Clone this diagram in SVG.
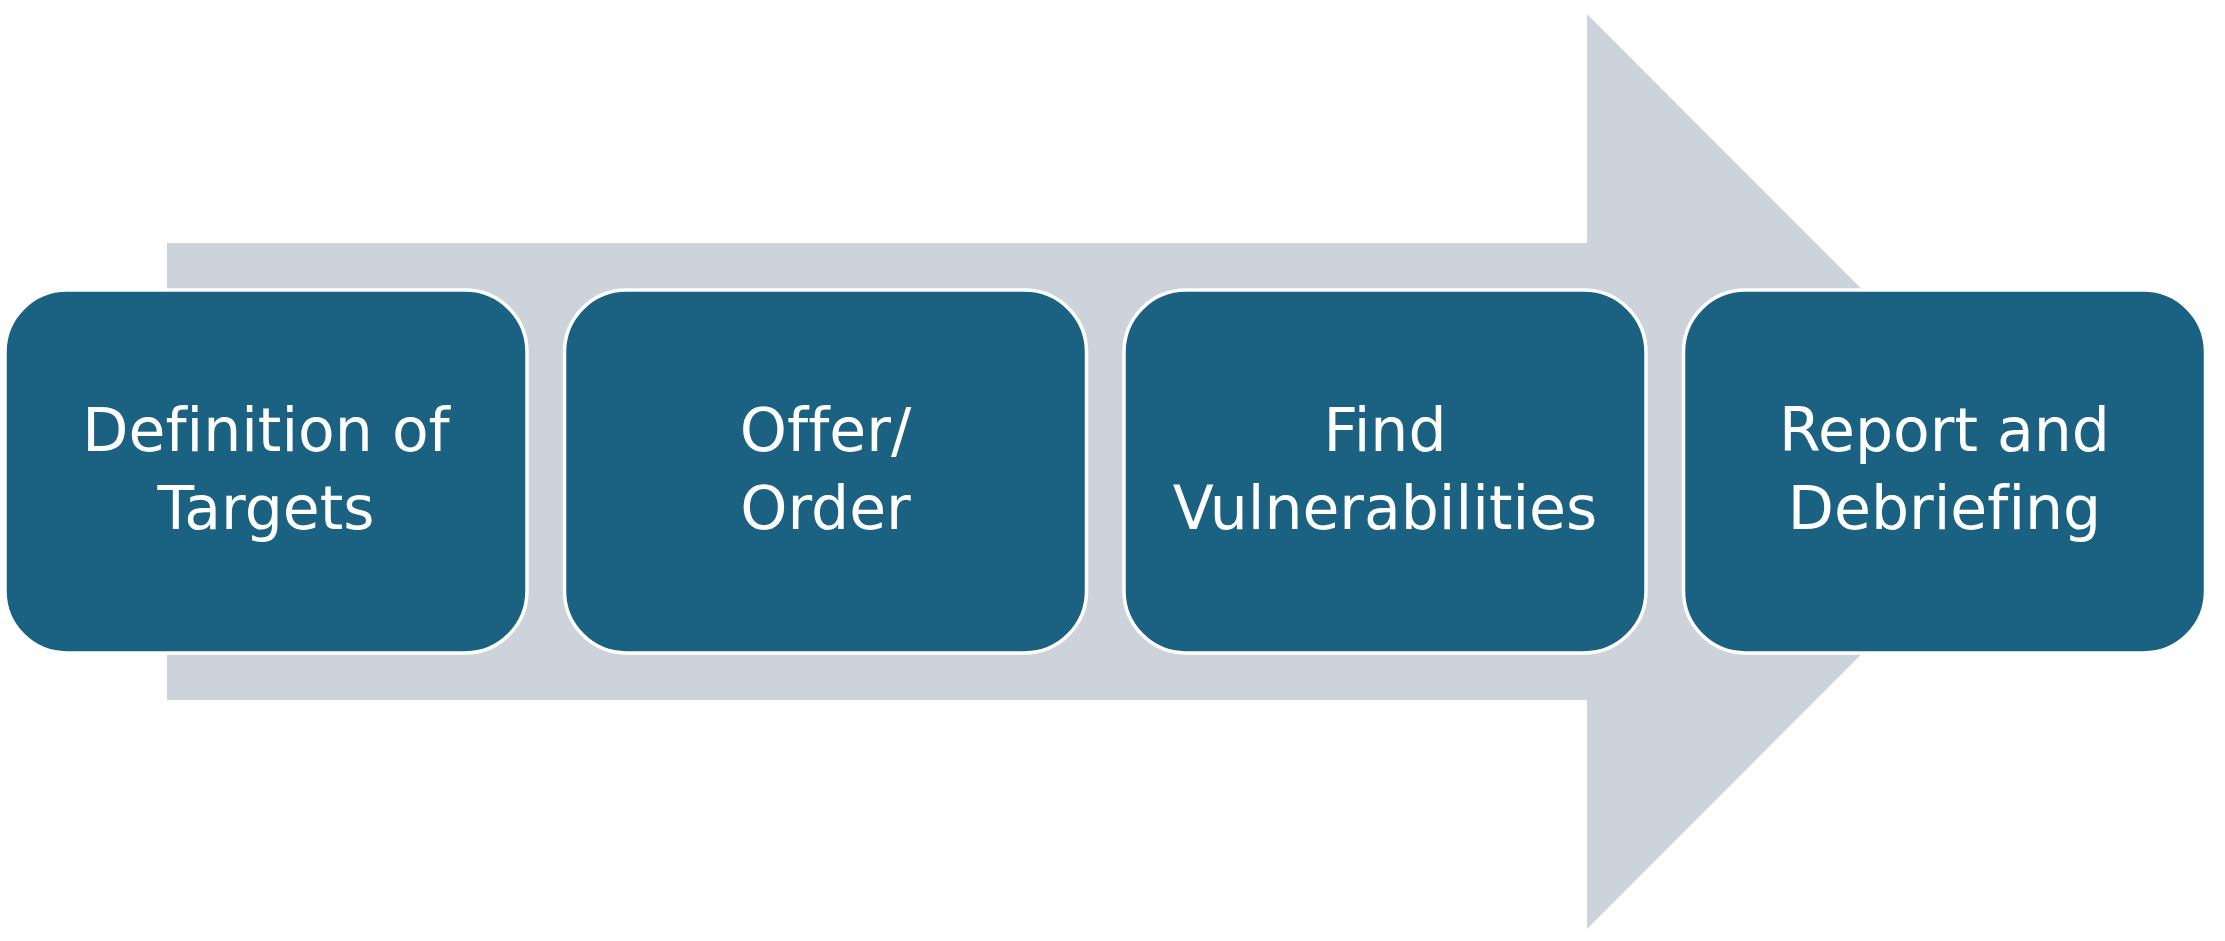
<svg xmlns="http://www.w3.org/2000/svg" width="2225" height="941" viewBox="0 0 2225 941">
<style>
.bg{fill:#ffffff}
.arrow{fill:#CCD3DA}
.box{fill:#1A6182;stroke:#ffffff;stroke-width:3.5}
.lbl{fill:#ffffff;font-family:"DejaVu Sans","Liberation Sans",sans-serif;font-size:60px;text-anchor:middle;font-variant-ligatures:none}
</style>
<rect class="bg" x="0" y="0" width="2225" height="941"/>
<g id="connectors">
<path class="arrow" d="M167,243 L1587,243 L1587,14 L2044,471.5 L1587,929 L1587,700 L167,700 Z"/>
</g>
<g id="node1">
<rect class="box" x="5" y="290" width="522" height="363" rx="62" ry="62"/>
<text class="lbl" x="266" y="451">Definition of</text>
<text class="lbl" x="266" y="529">Targets</text>
</g>
<g id="node2">
<rect class="box" x="564.5" y="290" width="522" height="363" rx="62" ry="62"/>
<text class="lbl" x="825.5" y="451">Offer/</text>
<text class="lbl" x="825.5" y="529">Order</text>
</g>
<g id="node3">
<rect class="box" x="1124" y="290" width="522" height="363" rx="62" ry="62"/>
<text class="lbl" x="1385" y="451">Find</text>
<text class="lbl" x="1385" y="529">Vulnerabilities</text>
</g>
<g id="node4">
<rect class="box" x="1683.5" y="290" width="522" height="363" rx="62" ry="62"/>
<text class="lbl" x="1944.5" y="451">Report and</text>
<text class="lbl" x="1944.5" y="529">Debriefing</text>
</g>
</svg>
